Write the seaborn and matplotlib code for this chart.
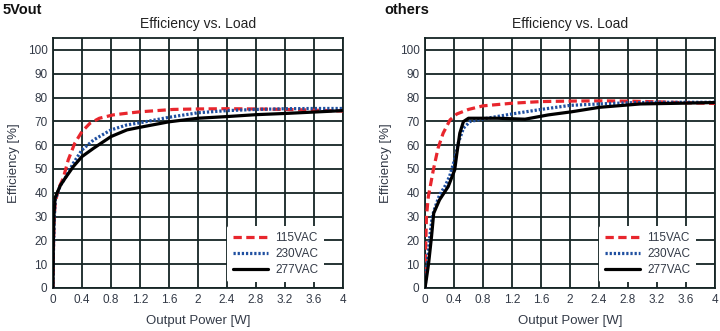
import matplotlib
matplotlib.use("Agg")
import matplotlib.pyplot as plt
import seaborn as sns
import pandas as pd

sns.set_theme(style="white")
plt.rcParams["font.family"] = ["Liberation Sans", "DejaVu Sans"]

# ---- 5Vout efficiency curves ----
x5_115 = [0, 0.005, 0.015, 0.03, 0.08, 0.14, 0.21, 0.3, 0.4, 0.51, 0.64, 0.83, 1.02, 1.2, 1.66, 2.0, 2.4, 2.8, 3.2, 3.6, 4.0]
y5_115 = [0, 15, 28, 36, 42, 46, 53.8, 60.8, 65.7, 69.2, 71.3, 72.7, 73.4, 74, 75, 75.2, 75.3, 75.2, 75, 74.7, 74.3]
x5_230 = [0, 0.005, 0.015, 0.03, 0.1, 0.165, 0.28, 0.4, 0.56, 0.8, 1.02, 1.2, 1.6, 2.0, 2.4, 2.8, 3.2, 3.6, 4.0]
y5_230 = [0, 14, 27, 37, 43, 46, 52.4, 58, 62.2, 66.4, 68.5, 69.4, 71.7, 73.6, 74.5, 75, 75.3, 75.4, 75.4]
x5_277 = [0, 0.005, 0.015, 0.03, 0.1, 0.165, 0.28, 0.4, 0.56, 0.8, 1.02, 1.2, 1.6, 2.0, 2.4, 2.8, 3.2, 3.6, 4.0]
y5_277 = [0, 20, 32, 38, 43, 46, 51, 55.2, 58.7, 63.6, 66.4, 67.5, 69.8, 71.3, 72, 72.8, 73.3, 73.9, 74.5]

# ---- other outputs efficiency curves ----
xo_115 = [0, 0.01, 0.02, 0.046, 0.115, 0.18, 0.25, 0.345, 0.44, 0.6, 0.8, 1.2, 1.6, 2.0, 2.4, 2.8, 3.2, 3.6, 4.0]
yo_115 = [0, 18, 30, 38.4, 49.6, 58.7, 65, 70.6, 73.1, 75, 76.5, 77.6, 78.3, 78.5, 78.6, 78.5, 78.2, 77.8, 77.5]
xo_230 = [0, 0.03, 0.06, 0.1, 0.14, 0.2, 0.28, 0.34, 0.4, 0.46, 0.53, 0.62, 0.78, 1.2, 1.6, 2.0, 2.4, 2.8, 3.2, 3.6, 4.0]
yo_230 = [0, 10, 20, 30, 34, 39, 43, 47, 53, 61, 67.1, 69.9, 70.9, 73.1, 75, 76.7, 77.3, 77.8, 78, 78, 78]
xo_277 = [0, 0.02, 0.05, 0.09, 0.12, 0.2, 0.32, 0.41, 0.44, 0.48, 0.53, 0.6, 1.0, 1.38, 1.7, 2.02, 2.41, 2.97, 3.52, 4.0]
yo_277 = [0, 4, 10.4, 21.6, 31.4, 37, 42.6, 49.6, 56.6, 65, 69.9, 71.3, 71.3, 70.9, 72.7, 74, 75.9, 77.3, 77.6, 77.9]

series_labels = ["115VAC", "230VAC", "277VAC"]
x_ticks = [0, 0.4, 0.8, 1.2, 1.6, 2, 2.4, 2.8, 3.2, 3.6, 4]
x_tick_labels = ["0", "0.4", "0.8", "1.2", "1.6", "2", "2.4", "2.8", "3.2", "3.6", "4"]
y_ticks = [0, 10, 20, 30, 40, 50, 60, 70, 80, 90, 100]

panels = [
    ("5Vout", [(x5_115, y5_115), (x5_230, y5_230), (x5_277, y5_277)]),
    ("others", [(xo_115, yo_115), (xo_230, yo_230), (xo_277, yo_277)]),
]

styles = {
    "115VAC": dict(color="#e8262d", linestyle=(0, (2.6, 1.4)), lw=2.3),
    "230VAC": dict(color="#1f4fa0", linestyle=(0, (0.7, 0.6)), lw=2.3),
    "277VAC": dict(color="#000000", linestyle="-", lw=2.3),
}

grid_col = "#152424"
text_col = "#333a47"

fig = plt.figure(figsize=(7.2, 3.31), dpi=100)
ax_left = [53 / 720, 425 / 720]
ax_w = 290 / 720
ax_b = 1 - 288 / 331
ax_h = 250 / 331

for i, (name, curves) in enumerate(panels):
    ax = fig.add_axes([ax_left[i], ax_b, ax_w, ax_h])
    for lab, (xs, ys) in zip(series_labels, curves):
        df = pd.DataFrame({"Output Power [W]": xs, "Efficiency [%]": ys})
        st = styles[lab]
        sns.lineplot(data=df, x="Output Power [W]", y="Efficiency [%]", ax=ax,
                     color=st["color"], linestyle=st["linestyle"], linewidth=st["lw"],
                     label=lab, zorder=3, sort=False)
    ax.set_xlim(0, 4)
    ax.set_ylim(0, 105)
    ax.set_xticks(x_ticks)
    ax.set_xticklabels(x_tick_labels)
    ax.set_yticks(y_ticks)
    ax.grid(True, color=grid_col, linewidth=1.3)
    ax.set_axisbelow(True)
    for sp in ax.spines.values():
        sp.set_color(grid_col)
        sp.set_linewidth(1.3)
    ax.tick_params(axis="both", length=0, labelsize=8.5, colors=text_col, pad=4)
    ax.set_xlabel("Output Power [W]", fontsize=9.5, color=text_col, labelpad=7)
    ax.set_ylabel("Efficiency [%]", fontsize=9.5, color=text_col)
    ax.yaxis.set_label_coords(-0.114, 0.5)
    ax.set_title("Efficiency vs. Load", fontsize=10, color="#222222", pad=7)
    leg = ax.legend(loc="lower right", bbox_to_anchor=(0.955, 0.0), frameon=True,
                    fontsize=8.5, handlelength=3.0, handletextpad=0.6,
                    labelspacing=0.35, borderpad=0.5, labelcolor=text_col)
    leg.get_frame().set_facecolor("white")
    leg.get_frame().set_edgecolor("none")
    leg.get_frame().set_alpha(1)
    leg.set_zorder(5)

fig.text(3 / 720, 1 - 10 / 331, "5Vout", fontsize=10.5, fontweight="bold",
         color="#111111", va="center", ha="left")
fig.text(384 / 720, 1 - 10 / 331, "others", fontsize=10.5, fontweight="bold",
         color="#111111", va="center", ha="left")

fig.savefig("out.png", dpi=100)
